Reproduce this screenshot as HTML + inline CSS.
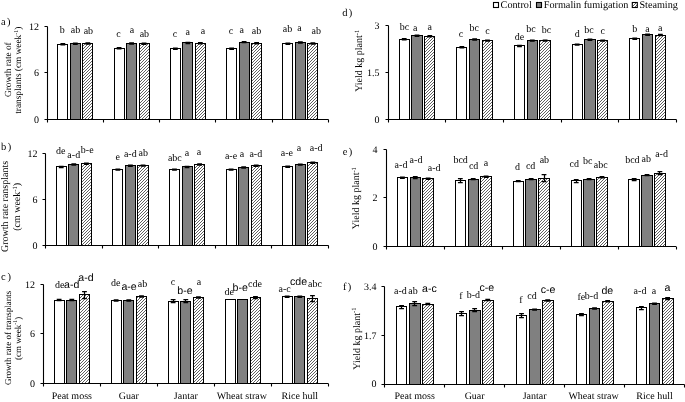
<!DOCTYPE html><html><head><meta charset="utf-8"><style>html,body{margin:0;padding:0;background:#fff;width:685px;height:402px;overflow:hidden}svg{display:block;will-change:transform;text-rendering:geometricPrecision}.s{font-family:"Liberation Serif", serif;font-size:10px;fill:#000}.a{font-family:"Liberation Sans", sans-serif;font-size:10.6px;fill:#000}</style></head><body>
<svg width="685" height="402" viewBox="0 0 685 402">
<defs><pattern id="h" patternUnits="userSpaceOnUse" width="3" height="3"><rect width="3" height="3" fill="#fff"/><path d="M-1,1 L1,-1 M0,3 L3,0 M2,4 L4,2" stroke="#606060" stroke-width="1"/></pattern></defs>
<rect width="685" height="402" fill="#fff"/>
<rect x="493.5" y="2.5" width="5" height="5" fill="#fff" stroke="#000" stroke-width="1.1"/>
<text class="s" x="500.6" y="8.3" style="font-size:10.2px">Control</text>
<rect x="536.5" y="2.5" width="5" height="5" fill="#808080" stroke="#000" stroke-width="1.1"/>
<text class="s" x="543.8" y="8.3" style="font-size:10.2px">Formalin fumigation</text>
<rect x="632.3" y="2.5" width="5" height="5" fill="url(#h)" stroke="#000" stroke-width="1.1"/>
<text class="s" x="639.4" y="8.3" style="font-size:10.2px">Steaming</text>
<rect x="57.5" y="44.5" width="10" height="75" fill="#fff" stroke="#000" stroke-width="1"/>
<path d="M60.43,43.6H65.23M60.43,44.8H65.23M62.5,43.6V44.8" stroke="#000" stroke-width="1.25" fill="none"/>
<text class="s" x="62.35" y="33.2" text-anchor="middle">b</text>
<rect x="70.5" y="43.5" width="10" height="76" fill="#808080" stroke="#000" stroke-width="1"/>
<path d="M72.93,43.1H77.73M72.93,44.3H77.73M75.5,43.1V44.3" stroke="#000" stroke-width="1.25" fill="none"/>
<text class="s" x="75.45" y="33.2" text-anchor="middle">ab</text>
<rect x="82.5" y="43.5" width="10" height="76" fill="url(#h)" stroke="#000" stroke-width="1"/>
<path d="M85.43,42.8H90.23M85.43,44H90.23M87.5,42.8V44" stroke="#000" stroke-width="1.25" fill="none"/>
<text class="s" x="88.4" y="34.2" text-anchor="middle">ab</text>
<rect x="114.5" y="48.5" width="10" height="71" fill="#fff" stroke="#000" stroke-width="1"/>
<path d="M116.69,47.6H121.49M116.69,48.8H121.49M119.5,47.6V48.8" stroke="#000" stroke-width="1.25" fill="none"/>
<text class="s" x="118.6" y="36.7" text-anchor="middle">c</text>
<rect x="126.5" y="43.5" width="10" height="76" fill="#808080" stroke="#000" stroke-width="1"/>
<path d="M129.19,42.8H133.99M129.19,44H133.99M131.5,42.8V44" stroke="#000" stroke-width="1.25" fill="none"/>
<text class="s" x="131.9" y="33.4" text-anchor="middle">a</text>
<rect x="139.5" y="43.5" width="10" height="76" fill="url(#h)" stroke="#000" stroke-width="1"/>
<path d="M141.69,43.1H146.49M141.69,44.3H146.49M144.5,43.1V44.3" stroke="#000" stroke-width="1.25" fill="none"/>
<text class="s" x="144.4" y="36.7" text-anchor="middle">ab</text>
<rect x="170.5" y="48.5" width="10" height="71" fill="#fff" stroke="#000" stroke-width="1"/>
<path d="M172.95,48.2H177.75M172.95,49.4H177.75M175.5,48.2V49.4" stroke="#000" stroke-width="1.25" fill="none"/>
<text class="s" x="175" y="37.1" text-anchor="middle">c</text>
<rect x="182.5" y="42.5" width="10" height="77" fill="#808080" stroke="#000" stroke-width="1"/>
<path d="M185.45,42.3H190.25M185.45,43.5H190.25M187.5,42.3V43.5" stroke="#000" stroke-width="1.25" fill="none"/>
<text class="s" x="187.8" y="35.1" text-anchor="middle">a</text>
<rect x="195.5" y="43.5" width="10" height="76" fill="url(#h)" stroke="#000" stroke-width="1"/>
<path d="M197.95,42.6H202.75M197.95,43.8H202.75M200.5,42.6V43.8" stroke="#000" stroke-width="1.25" fill="none"/>
<text class="s" x="203.1" y="33.9" text-anchor="middle">a</text>
<rect x="226.5" y="48.5" width="10" height="71" fill="#fff" stroke="#000" stroke-width="1"/>
<path d="M229.21,48.2H234.01M229.21,49.4H234.01M231.5,48.2V49.4" stroke="#000" stroke-width="1.25" fill="none"/>
<text class="s" x="231" y="33.9" text-anchor="middle">c</text>
<rect x="239.5" y="42.5" width="10" height="77" fill="#808080" stroke="#000" stroke-width="1"/>
<path d="M241.71,41.5H246.51M241.71,42.7H246.51M244.5,41.5V42.7" stroke="#000" stroke-width="1.25" fill="none"/>
<text class="s" x="241.8" y="33" text-anchor="middle">a</text>
<rect x="251.5" y="43.5" width="10" height="76" fill="url(#h)" stroke="#000" stroke-width="1"/>
<path d="M254.21,42.6H259.01M254.21,43.8H259.01M256.5,42.6V43.8" stroke="#000" stroke-width="1.25" fill="none"/>
<text class="s" x="256.5" y="33.9" text-anchor="middle">ab</text>
<rect x="282.5" y="43.5" width="10" height="76" fill="#fff" stroke="#000" stroke-width="1"/>
<path d="M285.47,43.1H290.27M285.47,44.3H290.27M287.5,43.1V44.3" stroke="#000" stroke-width="1.25" fill="none"/>
<text class="s" x="287.6" y="32.3" text-anchor="middle">ab</text>
<rect x="295.5" y="42.5" width="10" height="77" fill="#808080" stroke="#000" stroke-width="1"/>
<path d="M297.97,41.8H302.77M297.97,43H302.77M300.5,41.8V43" stroke="#000" stroke-width="1.25" fill="none"/>
<text class="s" x="299.6" y="31.4" text-anchor="middle">a</text>
<rect x="307.5" y="43.5" width="10" height="76" fill="url(#h)" stroke="#000" stroke-width="1"/>
<path d="M310.47,42.8H315.27M310.47,44H315.27M312.5,42.8V44" stroke="#000" stroke-width="1.25" fill="none"/>
<text class="s" x="316.3" y="33.9" text-anchor="middle">ab</text>
<path d="M47.5,26.5V119.5H328.5" stroke="#000" stroke-width="1.1" fill="none"/>
<path d="M47.5,119.5V122.5M103.5,119.5V122.5M159.5,119.5V122.5M215.5,119.5V122.5M272.5,119.5V122.5M328.5,119.5V122.5M44.5,119.5H47.5M44.5,72.5H47.5M44.5,26.5H47.5" stroke="#000" stroke-width="1.1" fill="none"/>
<text class="s" x="39" y="122.6" text-anchor="end">0</text>
<text class="s" x="39" y="76.35" text-anchor="end">6</text>
<text class="s" x="39" y="30.1" text-anchor="end">12</text>
<text class="s" x="1" y="24.7" style="font-size:10.5px">a</text>
<text class="s" x="7" y="24.7" style="font-size:10.5px">)</text>
<rect x="56.5" y="166.5" width="10" height="79" fill="#fff" stroke="#000" stroke-width="1"/>
<path d="M58.83,166.3H63.63M58.83,167.5H63.63M61.5,166.3V167.5" stroke="#000" stroke-width="1.25" fill="none"/>
<text class="s" x="60.7" y="153.9" text-anchor="middle">de</text>
<rect x="68.5" y="164.5" width="10" height="81" fill="#808080" stroke="#000" stroke-width="1"/>
<path d="M71.41,163.9H76.21M71.41,165.1H76.21M73.5,163.9V165.1" stroke="#000" stroke-width="1.25" fill="none"/>
<text class="s" x="73.75" y="157.8" text-anchor="middle">a-d</text>
<rect x="81.5" y="163.5" width="10" height="82" fill="url(#h)" stroke="#000" stroke-width="1"/>
<path d="M83.99,163.1H88.79M83.99,164.3H88.79M86.5,163.1V164.3" stroke="#000" stroke-width="1.25" fill="none"/>
<text class="s" x="87.25" y="153" text-anchor="middle">b-e</text>
<rect x="112.5" y="169.5" width="10" height="76" fill="#fff" stroke="#000" stroke-width="1"/>
<path d="M115.45,169H120.25M115.45,170.2H120.25M117.5,169V170.2" stroke="#000" stroke-width="1.25" fill="none"/>
<text class="s" x="117.85" y="159.8" text-anchor="middle">e</text>
<rect x="125.5" y="165.5" width="10" height="80" fill="#808080" stroke="#000" stroke-width="1"/>
<path d="M128.03,165.2H132.83M128.03,166.4H132.83M130.5,165.2V166.4" stroke="#000" stroke-width="1.25" fill="none"/>
<text class="s" x="130.3" y="156.7" text-anchor="middle">a-d</text>
<rect x="137.5" y="165.5" width="11" height="80" fill="url(#h)" stroke="#000" stroke-width="1"/>
<path d="M140.61,165H145.41M140.61,166.2H145.41M143.5,165V166.2" stroke="#000" stroke-width="1.25" fill="none"/>
<text class="s" x="143.3" y="156.2" text-anchor="middle">ab</text>
<rect x="169.5" y="169.5" width="10" height="76" fill="#fff" stroke="#000" stroke-width="1"/>
<path d="M172.07,169H176.87M172.07,170.2H176.87M174.5,169V170.2" stroke="#000" stroke-width="1.25" fill="none"/>
<text class="s" x="174.85" y="160.7" text-anchor="middle">abc</text>
<rect x="182.5" y="166.5" width="10" height="79" fill="#808080" stroke="#000" stroke-width="1"/>
<path d="M184.65,166.3H189.45M184.65,167.5H189.45M187.5,166.3V167.5" stroke="#000" stroke-width="1.25" fill="none"/>
<text class="s" x="186.9" y="156.2" text-anchor="middle">a</text>
<rect x="194.5" y="164.5" width="10" height="81" fill="url(#h)" stroke="#000" stroke-width="1"/>
<path d="M197.23,163.9H202.03M197.23,165.1H202.03M199.5,163.9V165.1" stroke="#000" stroke-width="1.25" fill="none"/>
<text class="s" x="199" y="155.1" text-anchor="middle">a</text>
<rect x="226.5" y="169.5" width="10" height="76" fill="#fff" stroke="#000" stroke-width="1"/>
<path d="M228.69,169H233.49M228.69,170.2H233.49M231.5,169V170.2" stroke="#000" stroke-width="1.25" fill="none"/>
<text class="s" x="231" y="159.4" text-anchor="middle">a-e</text>
<rect x="238.5" y="167.5" width="10" height="78" fill="#808080" stroke="#000" stroke-width="1"/>
<path d="M241.27,166.8H246.07M241.27,168H246.07M243.5,166.8V168" stroke="#000" stroke-width="1.25" fill="none"/>
<text class="s" x="241.9" y="156.7" text-anchor="middle">a</text>
<rect x="251.5" y="165.5" width="10" height="80" fill="url(#h)" stroke="#000" stroke-width="1"/>
<path d="M253.85,165.2H258.65M253.85,166.4H258.65M256.5,165.2V166.4" stroke="#000" stroke-width="1.25" fill="none"/>
<text class="s" x="255.8" y="156.7" text-anchor="middle">a-d</text>
<rect x="282.5" y="166.5" width="10" height="79" fill="#fff" stroke="#000" stroke-width="1"/>
<path d="M285.31,166.2H290.11M285.31,167.4H290.11M287.5,166.2V167.4" stroke="#000" stroke-width="1.25" fill="none"/>
<text class="s" x="286.85" y="156.1" text-anchor="middle">a-e</text>
<rect x="295.5" y="164.5" width="10" height="81" fill="#808080" stroke="#000" stroke-width="1"/>
<path d="M297.89,164H302.69M297.89,165.2H302.69M300.5,164V165.2" stroke="#000" stroke-width="1.25" fill="none"/>
<text class="s" x="299.1" y="151.2" text-anchor="middle">a</text>
<rect x="307.5" y="162.5" width="10" height="83" fill="url(#h)" stroke="#000" stroke-width="1"/>
<path d="M310.47,162.1H315.27M310.47,163.3H315.27M312.5,162.1V163.3" stroke="#000" stroke-width="1.25" fill="none"/>
<text class="s" x="316.1" y="151" text-anchor="middle">a-d</text>
<path d="M45.5,153.5V245.5H328.6" stroke="#000" stroke-width="1.1" fill="none"/>
<path d="M45.5,245.5V248.5M102.5,245.5V248.5M158.5,245.5V248.5M215.5,245.5V248.5M271.5,245.5V248.5M328.5,245.5V248.5M42.5,245.5H45.5M42.5,199.5H45.5M42.5,153.5H45.5" stroke="#000" stroke-width="1.1" fill="none"/>
<text class="s" x="37.5" y="249" text-anchor="end">0</text>
<text class="s" x="37.5" y="202.85" text-anchor="end">6</text>
<text class="s" x="37.5" y="156.7" text-anchor="end">12</text>
<text class="s" x="1" y="149.5" style="font-size:10.5px">b</text>
<text class="s" x="7.7" y="149.5" style="font-size:10.5px">)</text>
<rect x="54.5" y="300.5" width="10" height="83" fill="#fff" stroke="#000" stroke-width="1"/>
<path d="M56.73,299.4H61.53M56.73,300.6H61.53M59.5,299.4V300.6" stroke="#000" stroke-width="1.25" fill="none"/>
<text class="s" x="59.7" y="287.7" text-anchor="middle">de</text>
<rect x="66.5" y="300.5" width="10" height="83" fill="#808080" stroke="#000" stroke-width="1"/>
<path d="M69.4,299.4H74.2M69.4,300.6H74.2M71.5,299.4V300.6" stroke="#000" stroke-width="1.25" fill="none"/>
<text class="a" x="71.75" y="287.8" text-anchor="middle">a-d</text>
<rect x="79.5" y="294.5" width="10" height="89" fill="url(#h)" stroke="#000" stroke-width="1"/>
<path d="M82.07,291.5H86.87M82.07,298.5H86.87M84.5,291.5V298.5" stroke="#000" stroke-width="1.25" fill="none"/>
<text class="a" x="86" y="281.2" text-anchor="middle">a-d</text>
<rect x="111.5" y="300.5" width="10" height="83" fill="#fff" stroke="#000" stroke-width="1"/>
<path d="M113.73,299.9H118.53M113.73,301.1H118.53M116.5,299.9V301.1" stroke="#000" stroke-width="1.25" fill="none"/>
<text class="s" x="115.85" y="285.8" text-anchor="middle">de</text>
<rect x="123.5" y="300.5" width="10" height="83" fill="#808080" stroke="#000" stroke-width="1"/>
<path d="M126.4,299.9H131.2M126.4,301.1H131.2M128.5,299.9V301.1" stroke="#000" stroke-width="1.25" fill="none"/>
<text class="a" x="129.1" y="289.5" text-anchor="middle">a-e</text>
<rect x="136.5" y="296.5" width="10" height="87" fill="url(#h)" stroke="#000" stroke-width="1"/>
<path d="M139.07,295.9H143.87M139.07,297.1H143.87M141.5,295.9V297.1" stroke="#000" stroke-width="1.25" fill="none"/>
<text class="s" x="142.6" y="287.4" text-anchor="middle">ab</text>
<rect x="168.5" y="301.5" width="10" height="82" fill="#fff" stroke="#000" stroke-width="1"/>
<path d="M170.73,299.5H175.53M170.73,302.5H175.53M173.5,299.5V302.5" stroke="#000" stroke-width="1.25" fill="none"/>
<text class="s" x="173.1" y="285.1" text-anchor="middle">c</text>
<rect x="180.5" y="301.5" width="10" height="82" fill="#808080" stroke="#000" stroke-width="1"/>
<path d="M183.4,299.5H188.2M183.4,302.5H188.2M185.5,299.5V302.5" stroke="#000" stroke-width="1.25" fill="none"/>
<text class="a" x="185" y="294.3" text-anchor="middle">b-e</text>
<rect x="193.5" y="297.5" width="10" height="86" fill="url(#h)" stroke="#000" stroke-width="1"/>
<path d="M196.07,296.8H200.87M196.07,298H200.87M198.5,296.8V298" stroke="#000" stroke-width="1.25" fill="none"/>
<text class="s" x="199" y="284.7" text-anchor="middle">a</text>
<rect x="225.5" y="299.5" width="10" height="84" fill="#fff" stroke="#000" stroke-width="1"/>
<text class="s" x="229.2" y="295.1" text-anchor="middle">de</text>
<rect x="237.5" y="299.5" width="10" height="84" fill="#808080" stroke="#000" stroke-width="1"/>
<text class="a" x="240.2" y="290.6" text-anchor="middle">b-e</text>
<rect x="250.5" y="297.5" width="10" height="86" fill="url(#h)" stroke="#000" stroke-width="1"/>
<path d="M253.07,296.5H257.87M253.07,298.5H257.87M255.5,296.5V298.5" stroke="#000" stroke-width="1.25" fill="none"/>
<text class="s" x="255" y="287.4" text-anchor="middle">cde</text>
<rect x="282.5" y="296.5" width="10" height="87" fill="#fff" stroke="#000" stroke-width="1"/>
<path d="M284.73,296.2H289.53M284.73,297.4H289.53M287.5,296.2V297.4" stroke="#000" stroke-width="1.25" fill="none"/>
<text class="s" x="284.7" y="291.6" text-anchor="middle">a-c</text>
<rect x="294.5" y="296.5" width="10" height="87" fill="#808080" stroke="#000" stroke-width="1"/>
<path d="M297.4,296.2H302.2M297.4,297.4H302.2M299.5,296.2V297.4" stroke="#000" stroke-width="1.25" fill="none"/>
<text class="a" x="298.6" y="284.7" text-anchor="middle">cde</text>
<rect x="307.5" y="298.5" width="10" height="85" fill="url(#h)" stroke="#000" stroke-width="1"/>
<path d="M310.07,295.5H314.87M310.07,301.5H314.87M312.5,295.5V301.5" stroke="#000" stroke-width="1.25" fill="none"/>
<text class="s" x="315" y="287.1" text-anchor="middle">abc</text>
<path d="M43.5,284.5V383.5H328.3" stroke="#000" stroke-width="1.1" fill="none"/>
<path d="M43.5,383.5V386.5M100.5,383.5V386.5M157.5,383.5V386.5M214.5,383.5V386.5M271.5,383.5V386.5M328.5,383.5V386.5M40.5,383.5H43.5M40.5,333.5H43.5M40.5,284.5H43.5" stroke="#000" stroke-width="1.1" fill="none"/>
<text class="s" x="35" y="386.9" text-anchor="end">0</text>
<text class="s" x="35" y="337.3" text-anchor="end">6</text>
<text class="s" x="35" y="287.7" text-anchor="end">12</text>
<text class="s" x="1" y="279.8" style="font-size:10.5px">c</text>
<text class="s" x="7.5" y="279.8" style="font-size:10.5px">)</text>
<text class="s" x="71.8" y="399.3" text-anchor="middle">Peat moss</text>
<text class="s" x="128.8" y="399.3" text-anchor="middle">Guar</text>
<text class="s" x="185.8" y="399.3" text-anchor="middle">Jantar</text>
<text class="s" x="241.8" y="399.3" text-anchor="middle">Wheat straw</text>
<text class="s" x="299.8" y="399.3" text-anchor="middle">Rice hull</text>
<rect x="399.5" y="39.5" width="10" height="80" fill="#fff" stroke="#000" stroke-width="1"/>
<path d="M401.81,38.6H406.61M401.81,39.8H406.61M404.5,38.6V39.8" stroke="#000" stroke-width="1.25" fill="none"/>
<text class="s" x="404.5" y="30.1" text-anchor="middle">bc</text>
<rect x="411.5" y="35.5" width="11" height="84" fill="#808080" stroke="#000" stroke-width="1"/>
<path d="M414.62,35.2H419.42M414.62,36.4H419.42M417.5,35.2V36.4" stroke="#000" stroke-width="1.25" fill="none"/>
<text class="s" x="415.3" y="31.2" text-anchor="middle">a</text>
<rect x="424.5" y="36.5" width="10" height="83" fill="url(#h)" stroke="#000" stroke-width="1"/>
<path d="M427.43,35.7H432.23M427.43,36.9H432.23M429.5,35.7V36.9" stroke="#000" stroke-width="1.25" fill="none"/>
<text class="s" x="429.75" y="30.1" text-anchor="middle">a</text>
<rect x="456.5" y="47.5" width="10" height="72" fill="#fff" stroke="#000" stroke-width="1"/>
<path d="M459.45,46.6H464.25M459.45,47.8H464.25M461.5,46.6V47.8" stroke="#000" stroke-width="1.25" fill="none"/>
<text class="s" x="461" y="36.5" text-anchor="middle">c</text>
<rect x="469.5" y="39.5" width="10" height="80" fill="#808080" stroke="#000" stroke-width="1"/>
<path d="M472.26,38.9H477.06M472.26,40.1H477.06M474.5,38.9V40.1" stroke="#000" stroke-width="1.25" fill="none"/>
<text class="s" x="474.3" y="30.8" text-anchor="middle">bc</text>
<rect x="482.5" y="40.5" width="10" height="79" fill="url(#h)" stroke="#000" stroke-width="1"/>
<path d="M485.07,40H489.87M485.07,41.2H489.87M487.5,40V41.2" stroke="#000" stroke-width="1.25" fill="none"/>
<text class="s" x="487.55" y="34.1" text-anchor="middle">c</text>
<rect x="514.5" y="45.5" width="10" height="74" fill="#fff" stroke="#000" stroke-width="1"/>
<path d="M517.09,45.3H521.89M517.09,46.5H521.89M519.5,45.3V46.5" stroke="#000" stroke-width="1.25" fill="none"/>
<text class="s" x="519.6" y="39.7" text-anchor="middle">de</text>
<rect x="527.5" y="40.5" width="10" height="79" fill="#808080" stroke="#000" stroke-width="1"/>
<path d="M529.9,40H534.7M529.9,41.2H534.7M532.5,40V41.2" stroke="#000" stroke-width="1.25" fill="none"/>
<text class="s" x="531.1" y="31.7" text-anchor="middle">bc</text>
<rect x="539.5" y="40.5" width="11" height="79" fill="url(#h)" stroke="#000" stroke-width="1"/>
<path d="M542.71,40H547.51M542.71,41.2H547.51M545.5,40V41.2" stroke="#000" stroke-width="1.25" fill="none"/>
<text class="s" x="546.5" y="33.3" text-anchor="middle">bc</text>
<rect x="572.5" y="44.5" width="10" height="75" fill="#fff" stroke="#000" stroke-width="1"/>
<path d="M574.73,44H579.53M574.73,45.2H579.53M577.5,44V45.2" stroke="#000" stroke-width="1.25" fill="none"/>
<text class="s" x="577.25" y="37" text-anchor="middle">d</text>
<rect x="584.5" y="39.5" width="11" height="80" fill="#808080" stroke="#000" stroke-width="1"/>
<path d="M587.54,39.2H592.34M587.54,40.4H592.34M589.5,39.2V40.4" stroke="#000" stroke-width="1.25" fill="none"/>
<text class="s" x="589" y="32.8" text-anchor="middle">bc</text>
<rect x="597.5" y="40.5" width="10" height="79" fill="url(#h)" stroke="#000" stroke-width="1"/>
<path d="M600.35,40H605.15M600.35,41.2H605.15M602.5,40V41.2" stroke="#000" stroke-width="1.25" fill="none"/>
<text class="s" x="602.75" y="34.1" text-anchor="middle">c</text>
<rect x="629.5" y="38.5" width="10" height="81" fill="#fff" stroke="#000" stroke-width="1"/>
<path d="M632.37,38.1H637.17M632.37,39.3H637.17M634.5,38.1V39.3" stroke="#000" stroke-width="1.25" fill="none"/>
<text class="s" x="634.8" y="32.1" text-anchor="middle">b</text>
<rect x="642.5" y="34.5" width="10" height="85" fill="#808080" stroke="#000" stroke-width="1"/>
<path d="M645.18,34.1H649.98M645.18,35.3H649.98M647.5,34.1V35.3" stroke="#000" stroke-width="1.25" fill="none"/>
<text class="s" x="647.5" y="31.7" text-anchor="middle">a</text>
<rect x="655.5" y="35.5" width="10" height="84" fill="url(#h)" stroke="#000" stroke-width="1"/>
<path d="M657.99,34.4H662.79M657.99,35.6H662.79M660.5,34.4V35.6" stroke="#000" stroke-width="1.25" fill="none"/>
<text class="s" x="660.25" y="30.8" text-anchor="middle">a</text>
<path d="M388.5,25.5V119.5H676.4" stroke="#000" stroke-width="1.1" fill="none"/>
<path d="M388.5,119.5V122.5M445.5,119.5V122.5M503.5,119.5V122.5M561.5,119.5V122.5M618.5,119.5V122.5M676.5,119.5V122.5M385.5,119.5H388.5M385.5,72.5H388.5M385.5,25.5H388.5" stroke="#000" stroke-width="1.1" fill="none"/>
<text class="s" x="379.5" y="123.3" text-anchor="end">0</text>
<text class="s" x="379.5" y="75.95" text-anchor="end">1.5</text>
<text class="s" x="379.5" y="28.6" text-anchor="end">3</text>
<text class="s" x="342.3" y="16.3" style="font-size:10.5px">d</text>
<text class="s" x="348.7" y="16.3" style="font-size:10.5px">)</text>
<rect x="397.5" y="177.5" width="10" height="69" fill="#fff" stroke="#000" stroke-width="1"/>
<path d="M400,177.2H404.8M400,178.4H404.8M402.5,177.2V178.4" stroke="#000" stroke-width="1.25" fill="none"/>
<text class="s" x="401" y="167.6" text-anchor="middle">a-d</text>
<rect x="410.5" y="177.5" width="10" height="69" fill="#808080" stroke="#000" stroke-width="1"/>
<path d="M412.87,176.5H417.67M412.87,178.5H417.67M415.5,176.5V178.5" stroke="#000" stroke-width="1.25" fill="none"/>
<text class="s" x="416" y="162.5" text-anchor="middle">a-d</text>
<rect x="422.5" y="178.5" width="11" height="68" fill="url(#h)" stroke="#000" stroke-width="1"/>
<path d="M425.74,178.2H430.54M425.74,179.4H430.54M428.5,178.2V179.4" stroke="#000" stroke-width="1.25" fill="none"/>
<text class="s" x="434.15" y="170.5" text-anchor="middle">a-d</text>
<rect x="455.5" y="180.5" width="10" height="66" fill="#fff" stroke="#000" stroke-width="1"/>
<path d="M457.94,178.5H462.74M457.94,182.5H462.74M460.5,178.5V182.5" stroke="#000" stroke-width="1.25" fill="none"/>
<text class="s" x="460.65" y="162.5" text-anchor="middle">bcd</text>
<rect x="468.5" y="179.5" width="10" height="67" fill="#808080" stroke="#000" stroke-width="1"/>
<path d="M470.81,178.5H475.61M470.81,179.7H475.61M473.5,178.5V179.7" stroke="#000" stroke-width="1.25" fill="none"/>
<text class="s" x="473.65" y="168.9" text-anchor="middle">cd</text>
<rect x="480.5" y="176.5" width="11" height="70" fill="url(#h)" stroke="#000" stroke-width="1"/>
<path d="M483.68,176.1H488.48M483.68,177.3H488.48M486.5,176.1V177.3" stroke="#000" stroke-width="1.25" fill="none"/>
<text class="s" x="486" y="165.7" text-anchor="middle">a</text>
<rect x="513.5" y="181.5" width="10" height="65" fill="#fff" stroke="#000" stroke-width="1"/>
<path d="M515.88,180.5H520.68M515.88,181.7H520.68M518.5,180.5V181.7" stroke="#000" stroke-width="1.25" fill="none"/>
<text class="s" x="517.45" y="169.7" text-anchor="middle">d</text>
<rect x="525.5" y="179.5" width="11" height="67" fill="#808080" stroke="#000" stroke-width="1"/>
<path d="M528.75,178.5H533.55M528.75,179.7H533.55M531.5,178.5V179.7" stroke="#000" stroke-width="1.25" fill="none"/>
<text class="s" x="530.65" y="168.6" text-anchor="middle">cd</text>
<rect x="538.5" y="178.5" width="11" height="68" fill="url(#h)" stroke="#000" stroke-width="1"/>
<path d="M541.62,174.5H546.42M541.62,181.5H546.42M544.5,174.5V181.5" stroke="#000" stroke-width="1.25" fill="none"/>
<text class="s" x="544.4" y="162.8" text-anchor="middle">ab</text>
<rect x="571.5" y="180.5" width="10" height="66" fill="#fff" stroke="#000" stroke-width="1"/>
<path d="M573.82,179.5H578.62M573.82,182.5H578.62M576.5,179.5V182.5" stroke="#000" stroke-width="1.25" fill="none"/>
<text class="s" x="574.2" y="167" text-anchor="middle">cd</text>
<rect x="583.5" y="179.5" width="11" height="67" fill="#808080" stroke="#000" stroke-width="1"/>
<path d="M586.69,178.5H591.49M586.69,179.7H591.49M589.5,178.5V179.7" stroke="#000" stroke-width="1.25" fill="none"/>
<text class="s" x="587.75" y="163.8" text-anchor="middle">bc</text>
<rect x="596.5" y="177.5" width="11" height="69" fill="url(#h)" stroke="#000" stroke-width="1"/>
<path d="M599.56,176.6H604.36M599.56,177.8H604.36M601.5,176.6V177.8" stroke="#000" stroke-width="1.25" fill="none"/>
<text class="s" x="600.8" y="167.6" text-anchor="middle">abc</text>
<rect x="628.5" y="179.5" width="11" height="67" fill="#fff" stroke="#000" stroke-width="1"/>
<path d="M631.76,178.5H636.56M631.76,180.5H636.56M634.5,178.5V180.5" stroke="#000" stroke-width="1.25" fill="none"/>
<text class="s" x="632.4" y="163.3" text-anchor="middle">bcd</text>
<rect x="641.5" y="175.5" width="11" height="71" fill="#808080" stroke="#000" stroke-width="1"/>
<path d="M644.63,174.5H649.43M644.63,175.7H649.43M647.5,174.5V175.7" stroke="#000" stroke-width="1.25" fill="none"/>
<text class="s" x="646.2" y="161.7" text-anchor="middle">ab</text>
<rect x="654.5" y="173.5" width="11" height="73" fill="url(#h)" stroke="#000" stroke-width="1"/>
<path d="M657.5,171.5H662.3M657.5,174.5H662.3M659.5,171.5V174.5" stroke="#000" stroke-width="1.25" fill="none"/>
<text class="s" x="661.55" y="157.3" text-anchor="middle">a-d</text>
<path d="M386.5,149.5V246.5H676" stroke="#000" stroke-width="1.1" fill="none"/>
<path d="M386.5,246.5V249.5M444.5,246.5V249.5M502.5,246.5V249.5M560.5,246.5V249.5M618.5,246.5V249.5M676.5,246.5V249.5M383.5,246.5H386.5M383.5,197.5H386.5M383.5,149.5H386.5" stroke="#000" stroke-width="1.1" fill="none"/>
<text class="s" x="377.4" y="249.8" text-anchor="end">0</text>
<text class="s" x="377.4" y="201.35" text-anchor="end">2</text>
<text class="s" x="377.4" y="152.9" text-anchor="end">4</text>
<text class="s" x="342.8" y="154.8" style="font-size:10.5px">e</text>
<text class="s" x="348.7" y="154.8" style="font-size:10.5px">)</text>
<rect x="396.5" y="306.5" width="10" height="78" fill="#fff" stroke="#000" stroke-width="1"/>
<path d="M399.18,305.5H403.98M399.18,308.5H403.98M401.5,305.5V308.5" stroke="#000" stroke-width="1.25" fill="none"/>
<text class="s" x="400.45" y="293.5" text-anchor="middle">a-d</text>
<rect x="409.5" y="303.5" width="11" height="81" fill="#808080" stroke="#000" stroke-width="1"/>
<path d="M412.28,301.5H417.08M412.28,305.5H417.08M414.5,301.5V305.5" stroke="#000" stroke-width="1.25" fill="none"/>
<text class="s" x="413" y="293.9" text-anchor="middle">ab</text>
<rect x="422.5" y="304.5" width="11" height="80" fill="url(#h)" stroke="#000" stroke-width="1"/>
<path d="M425.38,303.4H430.18M425.38,304.6H430.18M427.5,303.4V304.6" stroke="#000" stroke-width="1.25" fill="none"/>
<text class="a" x="429.35" y="291.8" text-anchor="middle">a-c</text>
<rect x="456.5" y="313.5" width="10" height="71" fill="#fff" stroke="#000" stroke-width="1"/>
<path d="M459.14,311.5H463.94M459.14,315.5H463.94M461.5,311.5V315.5" stroke="#000" stroke-width="1.25" fill="none"/>
<text class="s" x="461" y="298.9" text-anchor="middle">f</text>
<rect x="469.5" y="310.5" width="11" height="74" fill="#808080" stroke="#000" stroke-width="1"/>
<path d="M472.24,308.5H477.04M472.24,311.5H477.04M474.5,308.5V311.5" stroke="#000" stroke-width="1.25" fill="none"/>
<text class="s" x="473.4" y="297.5" text-anchor="middle">b-d</text>
<rect x="482.5" y="300.5" width="11" height="84" fill="url(#h)" stroke="#000" stroke-width="1"/>
<path d="M485.34,299.4H490.14M485.34,300.6H490.14M487.5,299.4V300.6" stroke="#000" stroke-width="1.25" fill="none"/>
<text class="a" x="486.8" y="291.4" text-anchor="middle">c-e</text>
<rect x="516.5" y="315.5" width="10" height="69" fill="#fff" stroke="#000" stroke-width="1"/>
<path d="M519.1,313.5H523.9M519.1,317.5H523.9M521.5,313.5V317.5" stroke="#000" stroke-width="1.25" fill="none"/>
<text class="s" x="521" y="303" text-anchor="middle">f</text>
<rect x="529.5" y="309.5" width="11" height="75" fill="#808080" stroke="#000" stroke-width="1"/>
<path d="M532.2,309H537M532.2,310.2H537M534.5,309V310.2" stroke="#000" stroke-width="1.25" fill="none"/>
<text class="s" x="532.1" y="299.1" text-anchor="middle">cd</text>
<rect x="542.5" y="300.5" width="11" height="84" fill="url(#h)" stroke="#000" stroke-width="1"/>
<path d="M545.3,299.9H550.1M545.3,301.1H550.1M547.5,299.9V301.1" stroke="#000" stroke-width="1.25" fill="none"/>
<text class="a" x="548.15" y="292.6" text-anchor="middle">c-e</text>
<rect x="576.5" y="314.5" width="10" height="70" fill="#fff" stroke="#000" stroke-width="1"/>
<path d="M579.06,313.5H583.86M579.06,315.5H583.86M581.5,313.5V315.5" stroke="#000" stroke-width="1.25" fill="none"/>
<text class="s" x="581.35" y="300.4" text-anchor="middle">fe</text>
<rect x="589.5" y="308.5" width="10" height="76" fill="#808080" stroke="#000" stroke-width="1"/>
<path d="M592.16,307.9H596.96M592.16,309.1H596.96M594.5,307.9V309.1" stroke="#000" stroke-width="1.25" fill="none"/>
<text class="s" x="591.5" y="298.8" text-anchor="middle">b-d</text>
<rect x="602.5" y="301.5" width="11" height="83" fill="url(#h)" stroke="#000" stroke-width="1"/>
<path d="M605.26,300.7H610.06M605.26,301.9H610.06M607.5,300.7V301.9" stroke="#000" stroke-width="1.25" fill="none"/>
<text class="a" x="607.35" y="294.3" text-anchor="middle">de</text>
<rect x="636.5" y="307.5" width="10" height="77" fill="#fff" stroke="#000" stroke-width="1"/>
<path d="M639.02,306.5H643.82M639.02,309.5H643.82M641.5,306.5V309.5" stroke="#000" stroke-width="1.25" fill="none"/>
<text class="s" x="640" y="293.9" text-anchor="middle">a-d</text>
<rect x="649.5" y="303.5" width="10" height="81" fill="#808080" stroke="#000" stroke-width="1"/>
<path d="M652.12,303.1H656.92M652.12,304.3H656.92M654.5,303.1V304.3" stroke="#000" stroke-width="1.25" fill="none"/>
<text class="s" x="654.1" y="293.9" text-anchor="middle">a</text>
<rect x="662.5" y="298.5" width="11" height="86" fill="url(#h)" stroke="#000" stroke-width="1"/>
<path d="M665.22,297.5H670.02M665.22,299.5H670.02M667.5,297.5V299.5" stroke="#000" stroke-width="1.25" fill="none"/>
<text class="a" x="667.35" y="290.7" text-anchor="middle">a</text>
<path d="M384.5,286.5V384.5H684.5" stroke="#000" stroke-width="1.1" fill="none"/>
<path d="M384.5,384.5V387.5M444.5,384.5V387.5M504.5,384.5V387.5M564.5,384.5V387.5M624.5,384.5V387.5M684.5,384.5V387.5M381.5,384.5H384.5M381.5,335.5H384.5M381.5,286.5H384.5" stroke="#000" stroke-width="1.1" fill="none"/>
<text class="s" x="376.5" y="387.4" text-anchor="end">0</text>
<text class="s" x="376.5" y="338.65" text-anchor="end">1.7</text>
<text class="s" x="376.5" y="289.9" text-anchor="end">3.4</text>
<text class="s" x="343" y="290.2" style="font-size:10.5px">f</text>
<text class="s" x="347.8" y="290.2" style="font-size:10.5px">)</text>
<text class="s" x="414.68" y="399.3" text-anchor="middle">Peat moss</text>
<text class="s" x="474.64" y="399.3" text-anchor="middle">Guar</text>
<text class="s" x="534.6" y="399.3" text-anchor="middle">Jantar</text>
<text class="s" x="593.56" y="399.3" text-anchor="middle">Wheat straw</text>
<text class="s" x="654.52" y="399.3" text-anchor="middle">Rice hull</text>
<text class="s" transform="translate(11.2,69.7) rotate(-90)" text-anchor="middle" style="font-size:9.3px">Growth rate of</text>
<text class="s" transform="translate(21.4,70.2) rotate(-90)" text-anchor="middle" style="font-size:9.3px">transplants (cm week<tspan dy="-3.2" style="font-size:6.05px">-1</tspan><tspan dy="3.2">)</tspan></text>
<text class="s" transform="translate(8.4,206.4) rotate(-90)" text-anchor="middle" style="font-size:10px">Growth rate ransplants</text>
<text class="s" transform="translate(19.9,206.9) rotate(-90)" text-anchor="middle" style="font-size:10px">(cm week<tspan dy="-3.2" style="font-size:6.5px">-1</tspan><tspan dy="3.2">)</tspan></text>
<text class="s" transform="translate(10.8,337.9) rotate(-90)" text-anchor="middle" style="font-size:9px">Growth rate of transplants</text>
<text class="s" transform="translate(20.5,338.4) rotate(-90)" text-anchor="middle" style="font-size:9px">(cm week<tspan dy="-3.2" style="font-size:5.85px">-1</tspan><tspan dy="3.2">)</tspan></text>
<text class="s" transform="translate(362,60.8) rotate(-90)" text-anchor="middle" style="font-size:10px">Yield kg plant<tspan dy="-3.2" style="font-size:6.5px">-1</tspan><tspan dy="3.2"></tspan></text>
<text class="s" transform="translate(359.3,198.2) rotate(-90)" text-anchor="middle" style="font-size:10px">Yield kg plant<tspan dy="-3.2" style="font-size:6.5px">-1</tspan><tspan dy="3.2"></tspan></text>
<text class="s" transform="translate(359.5,338.6) rotate(-90)" text-anchor="middle" style="font-size:10px">Yield kg plant<tspan dy="-3.2" style="font-size:6.5px">-1</tspan><tspan dy="3.2"></tspan></text>
</svg></body></html>
